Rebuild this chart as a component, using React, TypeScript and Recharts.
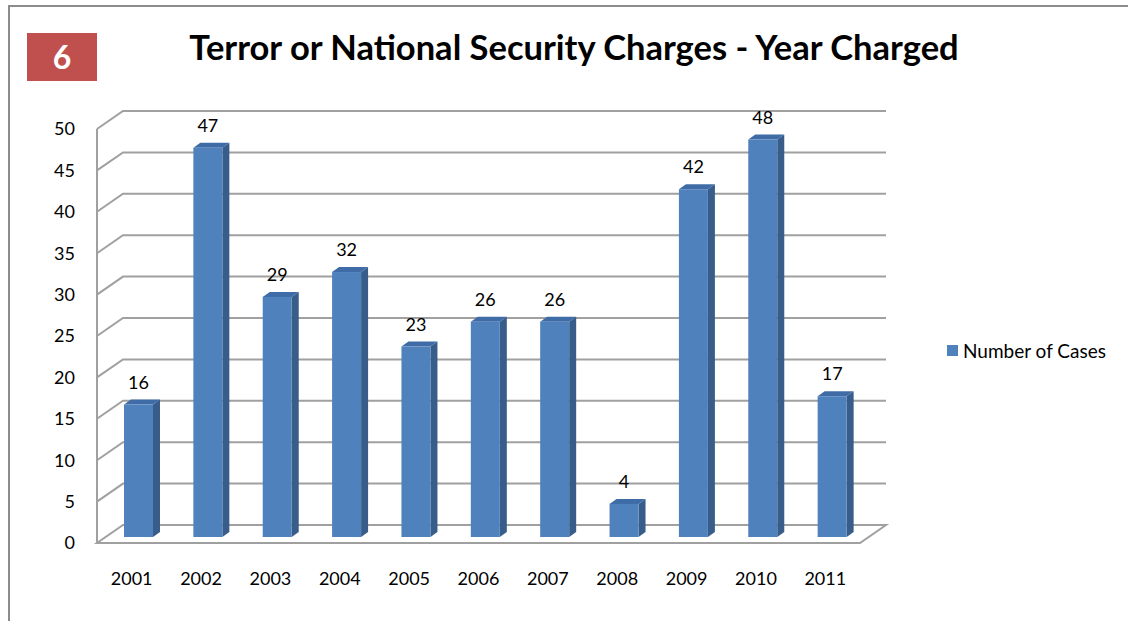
import { BarChart, Bar, XAxis, YAxis, CartesianGrid } from 'recharts'

const years = ['2001', '2002', '2003', '2004', '2005', '2006', '2007', '2008', '2009', '2010', '2011']
const cases = [16, 47, 29, 32, 23, 26, 26, 4, 42, 48, 17]
const yTicks = [0, 5, 10, 15, 20, 25, 30, 35, 40, 45, 50]

const data = years.map((year, i) => ({ year, cases: cases[i] }))

const FONT = 'Lato, "Open Sans", sans-serif'
const WALL_DX = 26
const WALL_DY = -18
// bars sit a bit behind the front plane
const BAR_DX = 7
const BAR_DY = -6
const BAR_DEPTH_X = 7
const BAR_DEPTH_Y = -5

function Bar3D(props: any) {
  const { x, y, width, height } = props
  if (height <= 0) return null
  const fx = x + BAR_DX
  const fy = y + BAR_DY
  const w = width
  const h = height
  return (
    <g>
      <polygon
        points={`${fx + w},${fy} ${fx + w + BAR_DEPTH_X},${fy + BAR_DEPTH_Y} ${fx + w + BAR_DEPTH_X},${fy + h + BAR_DEPTH_Y} ${fx + w},${fy + h}`}
        fill="#385d8a"
      />
      <polygon
        points={`${fx},${fy} ${fx + BAR_DEPTH_X},${fy + BAR_DEPTH_Y} ${fx + w + BAR_DEPTH_X},${fy + BAR_DEPTH_Y} ${fx + w},${fy}`}
        fill="#3f6ca6"
      />
      <rect x={fx} y={fy} width={w} height={h} fill="#4f81bd" />
    </g>
  )
}

function BarLabel(props: any) {
  const { x, y, width, value } = props
  return (
    <text
      x={x + width / 2 + BAR_DX}
      y={y - 22}
      textAnchor="middle"
      fontFamily={FONT}
      fontSize={18}
      fill="#000"
    >
      {value}
    </text>
  )
}

function GridLine(props: any) {
  const { x1, x2, y1, key } = props
  const isFloor = props.index === 0
  if (isFloor) {
    return (
      <polygon
        key={key}
        points={`${x1},${y1} ${x2},${y1} ${x2 + WALL_DX},${y1 + WALL_DY} ${x1 + WALL_DX},${y1 + WALL_DY}`}
        fill="#fff"
        stroke="#a0a0a0"
        strokeWidth={2}
      />
    )
  }
  return (
    <polyline
      key={key}
      points={`${x1},${y1} ${x1 + WALL_DX},${y1 + WALL_DY} ${x2 + WALL_DX},${y1 + WALL_DY}`}
      fill="none"
      stroke="#a0a0a0"
      strokeWidth={2}
    />
  )
}

export default function App() {
  return (
    <div style={{ position: 'absolute', left: 0, top: 0, width: 1128, height: 621, background: '#fff', overflow: 'hidden' }}>
      <div
        style={{
          position: 'absolute',
          left: 8,
          top: 5,
          width: 1140,
          height: 640,
          border: '2px solid #8c8c8c',
        }}
      />
      <div
        style={{
          position: 'absolute',
          left: 27,
          top: 33,
          width: 70,
          height: 48,
          background: '#c0504d',
          color: '#fff',
          fontFamily: FONT,
          fontWeight: 700,
          fontSize: 32,
          lineHeight: '48px',
          textAlign: 'center',
        }}
      >
        6
      </div>
      <div
        style={{
          position: 'absolute',
          left: 124,
          top: 26,
          width: 900,
          textAlign: 'center',
          fontFamily: FONT,
          fontWeight: 700,
          fontSize: 34.5,
          color: '#000',
        }}
      >
        Terror or National Security Charges - Year Charged
      </div>
      <div style={{ position: 'absolute', left: 0, top: 0 }}>
        <BarChart
          width={1128}
          height={621}
          data={data}
          margin={{ top: 129, right: 268, bottom: 38, left: 0 }}
        >
          <CartesianGrid vertical={false} horizontal={GridLine} />
          <XAxis
            dataKey="year"
            axisLine={false}
            tickLine={false}
            tickSize={0}
            tickMargin={29}
            height={40}
            tick={{ fill: '#000', fontSize: 18, fontFamily: FONT }}
          />
          <YAxis
            domain={[0, 50]}
            ticks={yTicks}
            width={97}
            axisLine={{ stroke: '#a0a0a0', strokeWidth: 2 }}
            tickLine={false}
            tickSize={0}
            tickMargin={22}
            tick={{ fill: '#000', fontSize: 18, fontFamily: FONT }}
          />
          <Bar
            dataKey="cases"
            name="Number of Cases"
            barSize={29}
            shape={<Bar3D />}
            label={<BarLabel />}
            isAnimationActive={false}
          />
        </BarChart>
      </div>
      <div
        style={{
          position: 'absolute',
          left: 947,
          top: 339,
          display: 'flex',
          alignItems: 'center',
          fontFamily: FONT,
          fontSize: 19,
          color: '#000',
          whiteSpace: 'nowrap',
        }}
      >
        <span style={{ display: 'inline-block', width: 11, height: 11, background: '#4f81bd', marginRight: 5 }} />
        Number of Cases
      </div>
    </div>
  )
}
